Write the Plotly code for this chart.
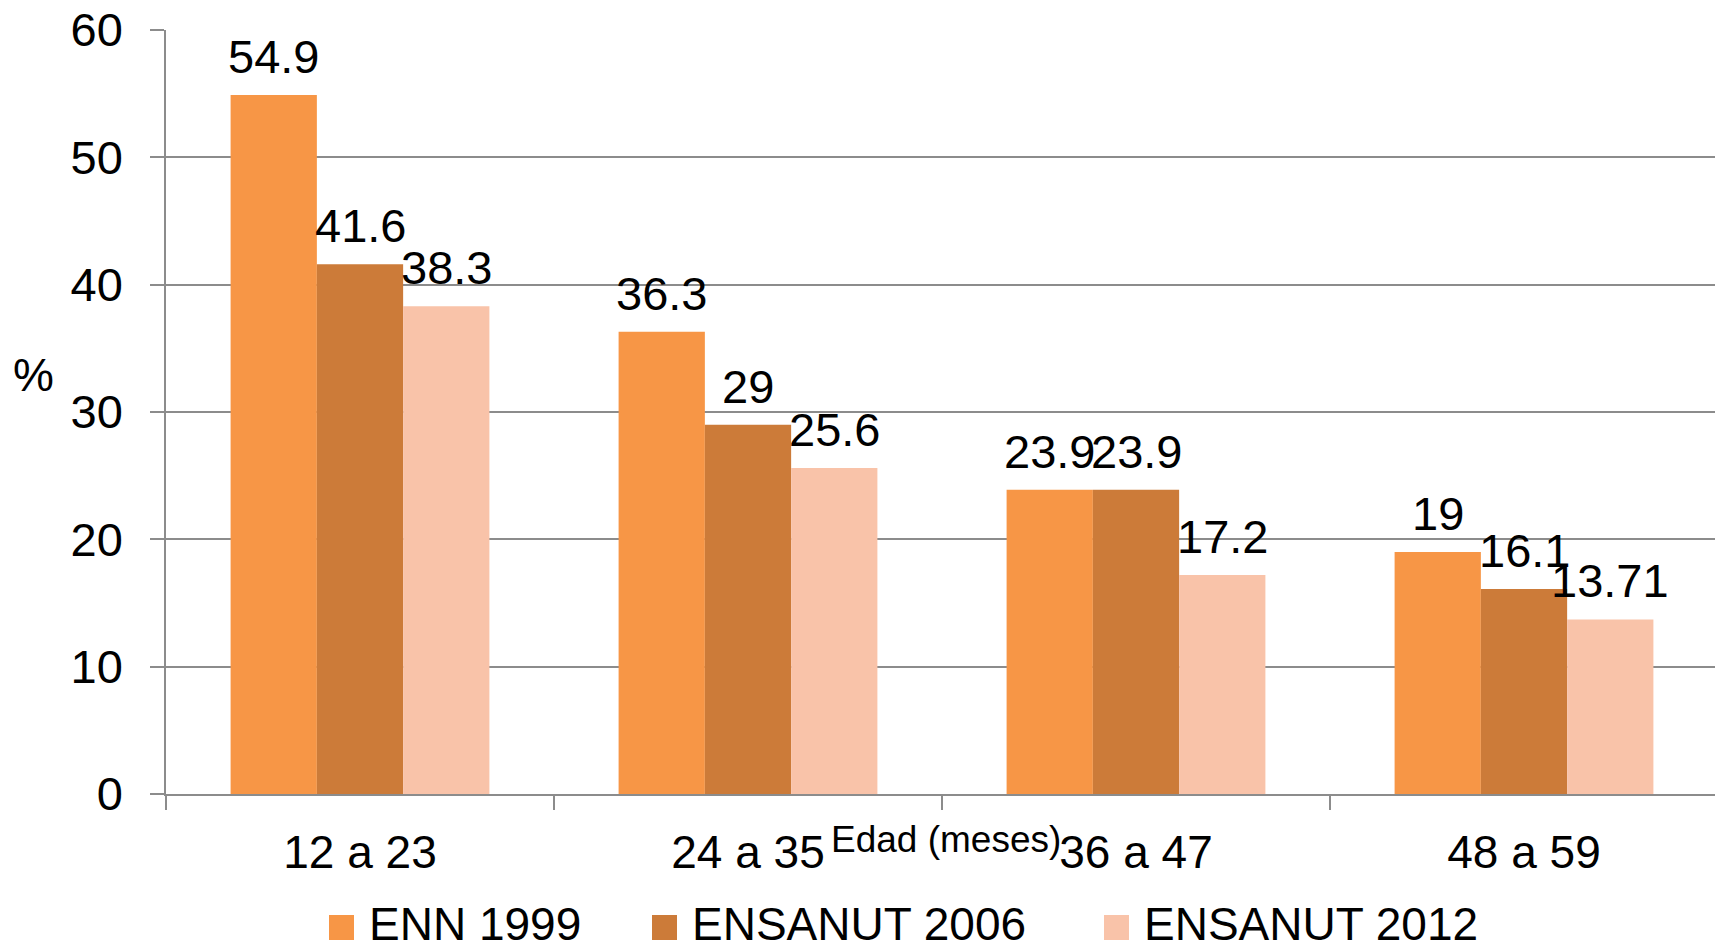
import plotly.graph_objects as go

# ---- data ----
categories = ["12 a 23", "24 a 35", "36 a 47", "48 a 59"]
enn_1999 = [54.9, 36.3, 23.9, 19]
ensanut_2006 = [41.6, 29, 23.9, 16.1]
ensanut_2012 = [38.3, 25.6, 17.2, 13.71]
value_labels_1999 = ["54.9", "36.3", "23.9", "19"]
value_labels_2006 = ["41.6", "29", "23.9", "16.1"]
value_labels_2012 = ["38.3", "25.6", "17.2", "13.71"]
series_names = ["ENN 1999", "ENSANUT 2006", "ENSANUT 2012"]
y_ticks = [0, 10, 20, 30, 40, 50, 60]

colors = ["#F79646", "#CC7B39", "#F9C3A9"]
FONT = "Liberation Sans, Arial, sans-serif"
GRID = "#8C8C8C"

# page body has an 8px margin: figure drawn 8px smaller, coords shifted
OFF = 8
W, H = 1723 - OFF, 948 - OFF
ML, MR, MT, MB = 166 - OFF, 5, 30 - OFF, 154
PW = W - ML - MR
PH = H - MT - MB


def px_x(px):
    return (px - OFF - ML) / PW


def px_y(py):
    return (H - MB - (py - OFF)) / PH


fig = go.Figure()
series = [enn_1999, ensanut_2006, ensanut_2012]
labels = [value_labels_1999, value_labels_2006, value_labels_2012]
for name, vals, col in zip(series_names, series, colors):
    fig.add_trace(go.Bar(x=categories, y=vals, name=name,
                         marker=dict(color=col, line=dict(width=0)),
                         showlegend=False))

# value labels above the bars
cat_px = PW / len(categories)
bar_px = cat_px * (1 - 0.333) / 3
annotations = []
for i, (vals, labs) in enumerate(zip(series, labels)):
    for c, v, t in zip(categories, vals, labs):
        annotations.append(dict(x=c, y=v, xref="x", yref="y", text=t,
                                showarrow=False, xanchor="center", yanchor="bottom",
                                xshift=(i - 1) * bar_px, yshift=10,
                                font=dict(family=FONT, size=47, color="black")))

# y-axis title "%"
annotations.append(dict(x=px_x(33.5), y=px_y(375), xref="paper", yref="paper",
                        text="%", showarrow=False, xanchor="center", yanchor="middle",
                        font=dict(family=FONT, size=46, color="black")))
# x-axis title
annotations.append(dict(x=px_x(945.6), y=px_y(839), xref="paper", yref="paper",
                        text="Edad (meses)", showarrow=False, xanchor="center",
                        yanchor="middle",
                        font=dict(family=FONT, size=37, color="black")))

# manual legend
legend_marker_px = [329, 652, 1104]
shapes = []
for name, col, mx in zip(series_names, colors, legend_marker_px):
    shapes.append(dict(type="rect", xref="paper", yref="paper",
                       x0=px_x(mx), x1=px_x(mx + 25), y0=px_y(940), y1=px_y(915),
                       fillcolor=col, line=dict(width=0)))
    annotations.append(dict(x=px_x(mx + 38), y=px_y(924), xref="paper", yref="paper",
                            text=name, showarrow=False, xanchor="left", yanchor="middle",
                            font=dict(family=FONT, size=46, color="black")))

fig.update_layout(
    width=W, height=H,
    margin=dict(l=ML, r=MR, t=MT, b=MB, autoexpand=False),
    paper_bgcolor="white", plot_bgcolor="white",
    barmode="group", bargap=0.333, bargroupgap=0,
    font=dict(family=FONT, size=46, color="black"),
    annotations=annotations, shapes=shapes,
    xaxis=dict(type="category", showline=True, linecolor=GRID, linewidth=1.5,
               ticks="outside", tickson="boundaries", ticklen=14, tickcolor=GRID,
               tickwidth=1.5, showgrid=False, ticklabelstandoff=17,
               automargin=False,
               tickfont=dict(family=FONT, size=46, color="black")),
    yaxis=dict(range=[0, 60], tickvals=y_ticks, showline=True, linecolor=GRID,
               linewidth=1.5, ticks="outside", ticklen=14, tickcolor=GRID,
               tickwidth=1.5, showgrid=True, gridcolor=GRID, gridwidth=1.5,
               zeroline=False, ticklabelstandoff=18, ticklabeloverflow="allow",
               automargin=False,
               tickfont=dict(family=FONT, size=47, color="black")),
)

fig.write_html("out.html")
